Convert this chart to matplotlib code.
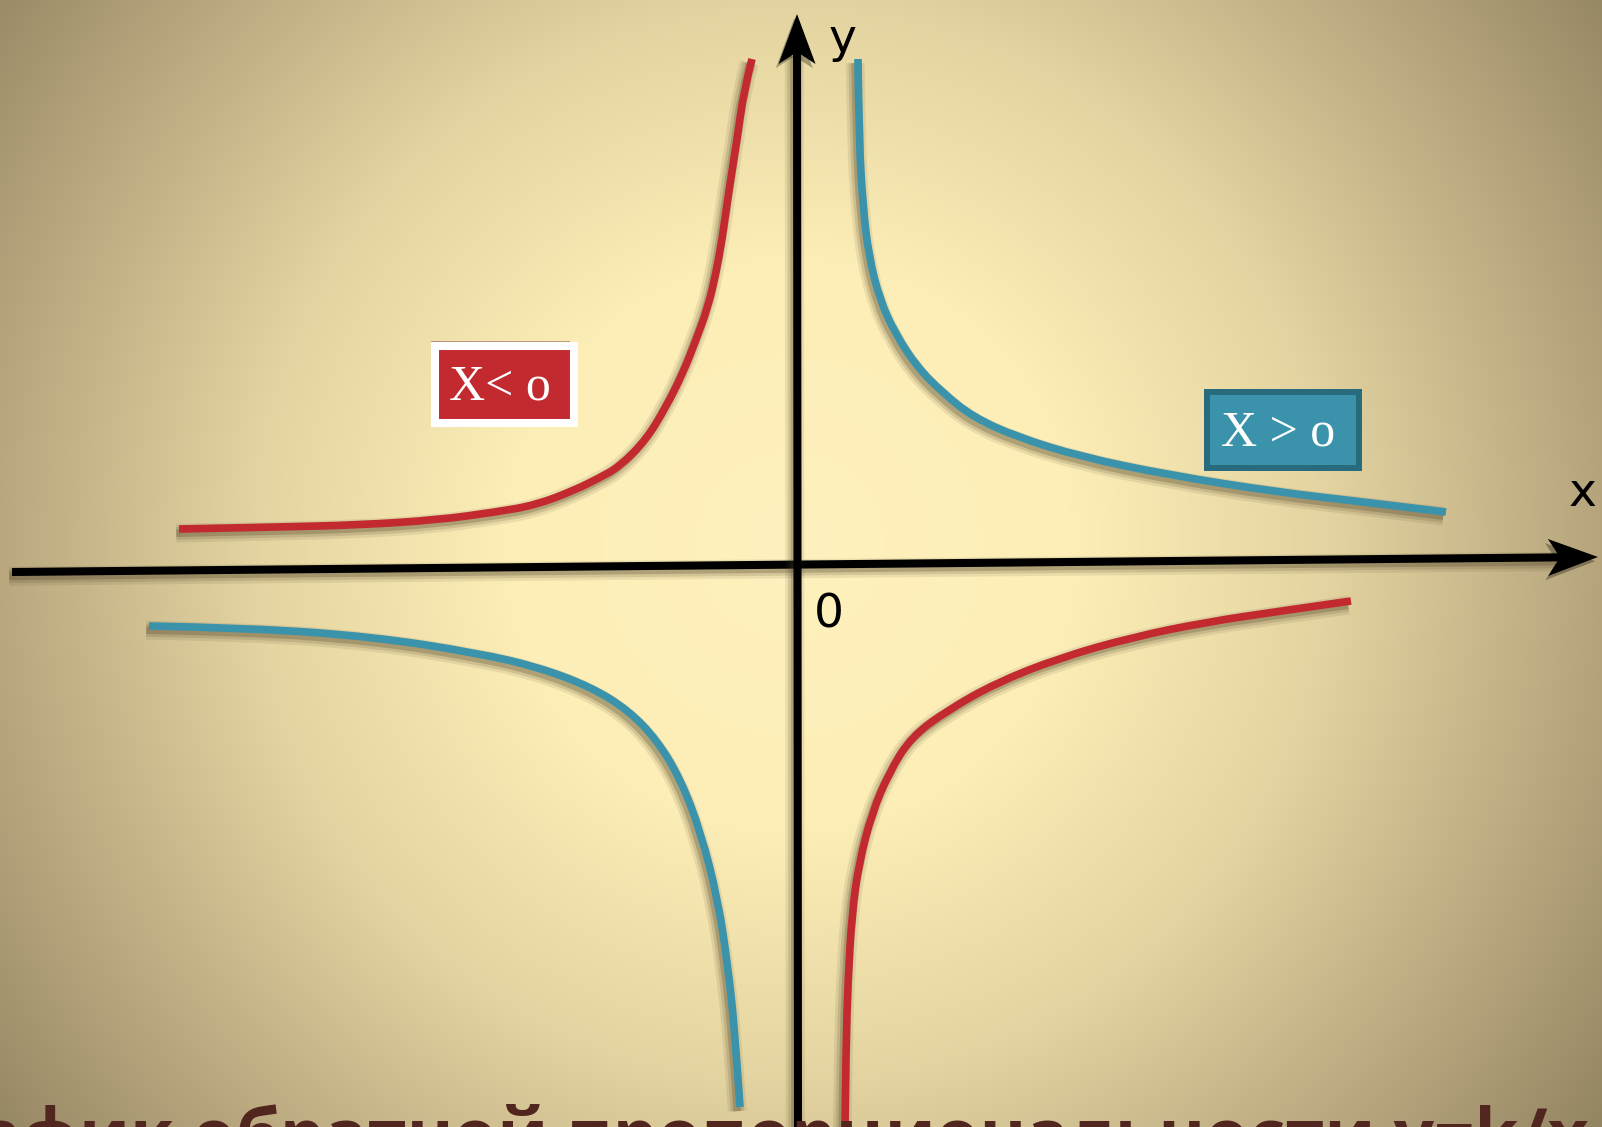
import numpy as np
import matplotlib
matplotlib.use("Agg")
import matplotlib.pyplot as plt
import matplotlib.patheffects as pe
from matplotlib.patches import Polygon, Rectangle, PathPatch
from matplotlib.path import Path

W, H = 1602, 1127

# curves (picture coordinates, y downwards)
red_upper_x = [179, 279, 358, 437, 496, 536, 575, 599, 619, 646, 666, 683, 696, 708, 716, 722, 729, 737, 744, 752]
red_upper_y = [529, 527, 525, 520, 512, 505, 490, 478, 467, 440, 407, 373, 340, 307, 273, 240, 190, 140, 90, 59]

blue_upper_x = [858, 859, 863, 869, 880, 895, 917, 943, 973, 1017, 1082, 1169, 1277, 1364, 1446]
blue_upper_y = [59, 140, 207, 257, 300, 333, 367, 393, 417, 437, 457, 475, 492, 502, 512]

blue_lower_x = [149, 252, 375, 477, 538, 591, 628, 657, 681, 701, 718, 728, 735, 740]
blue_lower_y = [626, 628, 637, 653, 667, 687, 710, 740, 780, 833, 900, 967, 1033, 1107]

red_lower_x = [1351, 1281, 1207, 1133, 1059, 996, 948, 911, 889, 872, 859, 852, 848, 846, 845]
red_lower_y = [601, 611, 622, 637, 658, 683, 710, 737, 773, 813, 863, 913, 980, 1047, 1127]

# axes: tail -> tip
x_axis = [(12, 572), (1598, 557)]
y_axis = [(798, 1130), (797, 14)]

labels = {"x": (1583, 493), "y": (843, 39), "0": (829, 615)}

red_box = (435, 345.5, 139, 77.5)
blue_box = (1207, 392, 152, 76)
red_text = ("X< o", 500, 400)
blue_text = ("X > o", 1278, 445)

title = "График обратной пропорциональности y=k/x"

RED = "#c22a2f"
BLUE = "#3a93ab"


def shadow(lw):
    return [pe.SimpleLineShadow(offset=(-2, -3), shadow_color="#4a3c22", alpha=0.10, linewidth=lw + 8),
            pe.SimpleLineShadow(offset=(-2, -3), shadow_color="#4a3c22", alpha=0.15, linewidth=lw + 4),
            pe.SimpleLineShadow(offset=(-2, -3), shadow_color="#4a3c22", alpha=0.25, linewidth=lw),
            pe.Normal()]


def background():
    yy, xx = np.mgrid[0:H, 0:W]
    t = np.hypot((xx - 790) / 800.0, (yy - 545) / 800.0)
    stops = [0.0, 0.35, 0.675, 0.975, 1.3]
    cols = np.array([[255, 241, 189], [253, 238, 183], [227, 211, 160],
                     [187, 169, 128], [140, 126, 92]]) / 255.0
    img = np.zeros((H, W, 3))
    for c in range(3):
        img[..., c] = np.interp(t, stops, cols[:, c])
    return img


def smooth_path(xs, ys):
    # quadratic b-spline through the read points (points act as control points)
    p = np.column_stack([xs, ys]).astype(float)
    verts = [p[0]]
    codes = [Path.MOVETO]
    for i in range(1, len(p) - 1):
        end = p[i + 1] if i == len(p) - 2 else (p[i] + p[i + 1]) / 2
        verts += [p[i], end]
        codes += [Path.CURVE3, Path.CURVE3]
    return Path(verts, codes)


def arrow(ax, tail, tip, length=50, width=37, notch=12):
    tail = np.array(tail, float)
    tip = np.array(tip, float)
    d = (tip - tail) / np.linalg.norm(tip - tail)
    n = np.array([-d[1], d[0]])
    base = tip - d * length
    back = tip - d * (length - notch)
    ax.plot([tail[0], back[0]], [tail[1], back[1]], color="black", lw=5.8,
            solid_capstyle="butt", zorder=3, path_effects=shadow(5.8))
    head = Polygon([tip, base + n * width / 2, back, base - n * width / 2],
                   closed=True, facecolor="black", edgecolor="none", zorder=3)
    head.set_path_effects([pe.SimplePatchShadow(offset=(-2, -3), alpha=0.3), pe.Normal()])
    ax.add_patch(head)


fig = plt.figure(figsize=(W / 100, H / 100), dpi=100)
ax = fig.add_axes([0, 0, 1, 1])
ax.set_xlim(0, W)
ax.set_ylim(H, 0)
ax.axis("off")

ax.imshow(background(), extent=(0, W, H, 0), aspect="auto", zorder=0)

arrow(ax, *x_axis)
arrow(ax, *y_axis)

for xs, ys, col in [(red_upper_x, red_upper_y, RED), (blue_upper_x, blue_upper_y, BLUE),
                    (blue_lower_x, blue_lower_y, BLUE), (red_lower_x, red_lower_y, RED)]:
    curve = PathPatch(smooth_path(xs, ys), fill=False, edgecolor=col, lw=5.5,
                      capstyle="butt", joinstyle="round", zorder=4)
    curve.set_path_effects(shadow(5.5))
    ax.add_patch(curve)

for txt, (lx, ly) in labels.items():
    ax.text(lx, ly, txt, fontsize=34, family="DejaVu Sans", ha="center", va="center", zorder=5)

rb = Rectangle(red_box[:2], red_box[2], red_box[3], facecolor=RED, edgecolor="white", lw=5.8, zorder=5)
rb.set_path_effects([pe.SimplePatchShadow(offset=(-3, 3), alpha=0.35), pe.Normal()])
ax.add_patch(rb)
bb = Rectangle(blue_box[:2], blue_box[2], blue_box[3], facecolor=BLUE, edgecolor="#276b7d", lw=4.3, zorder=5)
ax.add_patch(bb)

for txt, tx, ty in [red_text, blue_text]:
    ax.text(tx, ty, txt, fontsize=36, family="Liberation Serif", color="white",
            ha="center", va="baseline", zorder=6)

ax.text(1589, 1160, title, fontsize=51, family="Open Sans", fontweight="bold",
        color="#51261f", ha="right", va="baseline", zorder=6)

fig.savefig("out.png", dpi=100)
